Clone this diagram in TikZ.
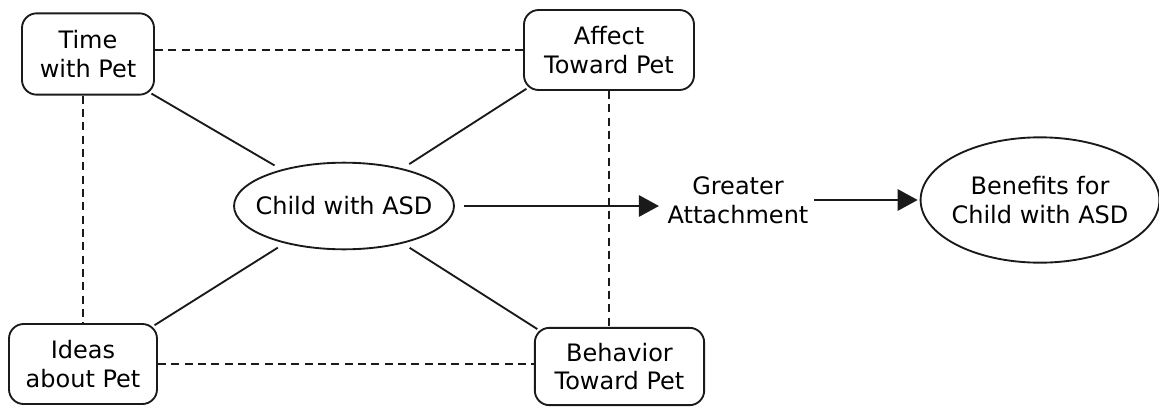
\documentclass[tikz,border=0pt]{standalone}
\usepackage{fontspec}
\setmainfont{DejaVu Sans}
\usetikzlibrary{shapes.geometric,arrows.meta,positioning}
\definecolor{inkdark}{HTML}{1a1a1a}

\begin{document}
\begin{tikzpicture}[x=0.75pt,y=-0.75pt,
  petbox/.style={draw=inkdark,line width=1.4pt,rounded corners=11pt,
    align=center,inner sep=2pt,font=\fontsize{18}{21.5}\selectfont},
  childell/.style={draw=inkdark,line width=1.4pt,ellipse,inner ysep=0pt,
    align=center,font=\fontsize{18}{21.5}\selectfont},
  linkline/.style={inkdark,line width=1.4pt},
  dashline/.style={inkdark,line width=1.4pt,dash pattern=on 6pt off 4pt},
  flowarrow/.style={inkdark,line width=1.4pt,-{Triangle[length=15pt,width=16pt]}}]

% Frame
\useasboundingbox (0,0) rectangle (1159,407);

% ===== PET BOXES =====
\node[petbox,minimum width=99pt,minimum height=61pt] (time) at (88,54)
  {Time\\with Pet};
\node[petbox,minimum width=127.5pt,minimum height=60pt] (affect) at (609,50)
  {Affect\\Toward Pet};
\node[petbox,minimum width=111pt,minimum height=60pt] (ideas) at (83,364)
  {Ideas\\about Pet};
\node[petbox,minimum width=127pt,minimum height=58pt] (behavior) at (619.5,366.5)
  {Behavior\\Toward Pet};

% ===== CENTRE AND OUTCOME =====
\node[childell,inner xsep=-8pt,minimum height=65pt] (child) at (344,206)
  {Child with ASD};
\node[align=center,font=\fontsize{18}{21.5}\selectfont] (attach) at (738,200)
  {Greater\\Attachment};
\node[childell,inner xsep=-3pt,minimum height=94pt] (benefits) at (1040,200)
  {Benefits for\\Child with ASD};

% Links to the child
\draw[linkline,shorten <=-3pt,shorten >=6pt] (time.south east) -- (child);
\draw[linkline,shorten <=-3pt,shorten >=6pt] (affect.south west) -- (child);
\draw[linkline,shorten <=-3pt,shorten >=6pt] (ideas.north east) -- (child);
\draw[linkline,shorten <=-3pt,shorten >=6pt] (behavior.north west) -- (child);

% Dashed square
\draw[dashline] (time.east |- affect.west) -- (affect.west);
\draw[dashline] (ideas.north |- time.south) -- (ideas.north);
\draw[dashline] (ideas.east) -- (behavior.west |- ideas.east);
\draw[dashline] (affect.south) -- (affect.south |- behavior.north);

% Arrows
\draw[flowarrow,shorten <=7pt,shorten >=3pt] (child.east) -- (child.east -| attach.west);
\draw[flowarrow,shorten <=1pt,shorten >=1.5pt] (attach.east |- benefits.west) -- (benefits.west);

\end{tikzpicture}
\end{document}
